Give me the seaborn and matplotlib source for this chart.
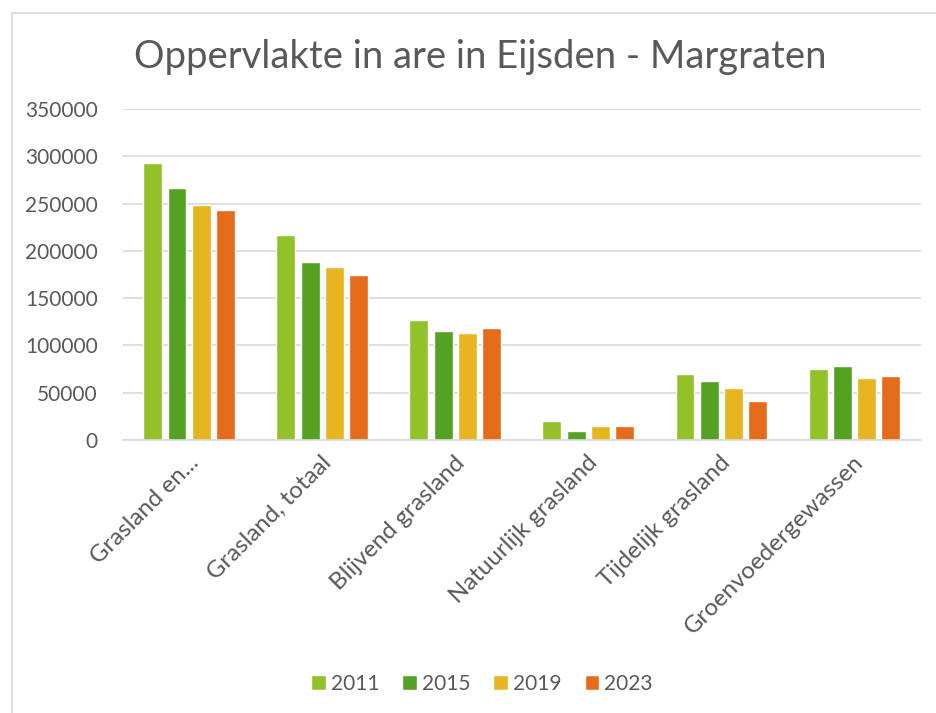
import matplotlib
matplotlib.use("Agg")
import matplotlib.pyplot as plt
import matplotlib.transforms as mtrans
from matplotlib.patches import Rectangle
import seaborn as sns
import pandas as pd

categories = ["Grasland en...", "Grasland, totaal", "Blijvend grasland",
              "Natuurlijk grasland", "Tijdelijk grasland", "Groenvoedergewassen"]
years = ["2011", "2015", "2019", "2023"]
v2011 = [293000, 217000, 126500, 20000, 69500, 75500]
v2015 = [266000, 188000, 115500, 9500, 62000, 77800]
v2019 = [248500, 183000, 113000, 14200, 55000, 65400]
v2023 = [243000, 174500, 118500, 14200, 40700, 67800]
colors = ["#92C12A", "#55A124", "#E6B521", "#E46C1A"]
yticks = [0, 50000, 100000, 150000, 200000, 250000, 300000, 350000]

rows = []
for yr, vals in zip(years, [v2011, v2015, v2019, v2023]):
    for cat, v in zip(categories, vals):
        rows.append({"categorie": cat, "jaar": yr, "are": v})
df = pd.DataFrame(rows)

sns.set_style("white")
plt.rcParams["font.family"] = ["Lato", "DejaVu Sans"]
txt = "#595959"

fig = plt.figure(figsize=(9.36, 7.13), dpi=100)
ax = fig.add_axes([0.131, 0.383, 0.853, 0.464])

sns.barplot(data=df, x="categorie", y="are", hue="jaar", palette=colors,
            width=0.73, gap=0.22, ax=ax, saturation=1, errorbar=None)

ax.set_ylim(0, 350000)
ax.set_yticks(yticks)
ax.set_yticklabels([str(t) for t in yticks], color=txt, fontsize=15)
ax.yaxis.grid(True, color="#d9d9d9", lw=1.2)
ax.set_axisbelow(True)
ax.set_xlabel("")
ax.set_ylabel("")
ax.tick_params(axis="both", length=0, pad=18)
ax.tick_params(axis="x", pad=14)
shift = mtrans.ScaledTranslation(6 / 100, 0, fig.dpi_scale_trans)
for lbl in ax.get_xticklabels():
    lbl.set_rotation(45)
    lbl.set_ha("right")
    lbl.set_va("center")
    lbl.set_rotation_mode("anchor")
    lbl.set_color(txt)
    lbl.set_fontsize(17.3)
    lbl.set_transform(lbl.get_transform() + shift)
for s in ["top", "right", "left"]:
    ax.spines[s].set_visible(False)
ax.spines["bottom"].set_color("#d9d9d9")
ax.spines["bottom"].set_linewidth(1.2)

fig.text(0.513, 0.92, "Oppervlakte in are in Eijsden - Margraten",
         ha="center", va="center", fontsize=27.5, color=txt)

leg = ax.legend(loc="center", bbox_to_anchor=(0.515, 0.041),
                bbox_transform=fig.transFigure, ncol=4, frameon=False,
                fontsize=15, handlelength=0.7, handleheight=0.7,
                handletextpad=0.25, columnspacing=1.1)
for t in leg.get_texts():
    t.set_color(txt)

fig.patches.append(Rectangle((12 / 936, -0.01), 1.0, 1 - 13 / 713 + 0.01,
                             transform=fig.transFigure, fill=False,
                             edgecolor="#d9d9d9", lw=1.2))

fig.savefig("out.png", dpi=100)
